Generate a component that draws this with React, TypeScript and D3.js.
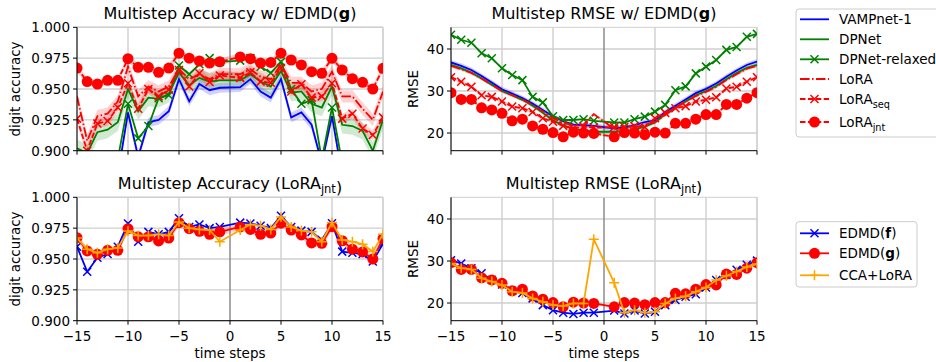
import React from "react";
import * as d3 from "d3";

const timeSteps = [-15,-14,-13,-12,-11,-10,-9,-8,-7,-6,-5,-4,-3,-2,-1,1,2,3,4,5,6,7,8,9,10,11,12,13,14,15];
const xTicks = [-15,-10,-5,0,5,10,15];
const accTicks = [0.9,0.925,0.95,0.975,1.0];
const rmseTicks = [20,30,40];

// Top-left: accuracy w/ EDMD(g)
const accVamp = [0.87,0.86,0.87,0.875,0.88,0.931,0.895,0.923,0.925,0.932,0.958,0.940,0.954,0.949,0.951,0.9515,0.958,0.948,0.943,0.958,0.927,0.931,0.921,0.89,0.928,0.88,0.87,0.87,0.87,0.87];
const accDPNet = [0.902,0.898,0.915,0.917,0.923,0.950,0.932,0.943,0.942,0.946,0.9635,0.953,0.959,0.956,0.957,0.957,0.962,0.956,0.952,0.9646,0.947,0.948,0.938,0.935,0.952,0.921,0.920,0.916,0.900,0.925];
const accDPNetRelaxed = [0.89,0.885,0.888,0.89,0.893,0.938,0.910,0.920,0.9425,0.945,0.969,0.962,0.970,0.975,0.972,0.973,0.975,0.968,0.963,0.972,0.950,0.938,0.941,0.893,0.935,0.89,0.885,0.885,0.885,0.885];
const accLoRA = [0.944,0.908,0.928,0.930,0.940,0.968,0.944,0.952,0.948,0.952,0.966,0.958,0.962,0.958,0.962,0.962,0.966,0.960,0.958,0.970,0.955,0.955,0.948,0.950,0.964,0.944,0.944,0.934,0.925,0.948];
const accLoRASeq = [0.926,0.900,0.922,0.924,0.935,0.9546,0.934,0.950,0.944,0.9495,0.9654,0.952,0.9627,0.9557,0.961,0.959,0.9635,0.956,0.955,0.967,0.948,0.9538,0.943,0.944,0.9546,0.926,0.930,0.918,0.9127,0.927];
const accLoRAJnt = [0.967,0.956,0.954,0.957,0.957,0.9746,0.9676,0.9676,0.9635,0.967,0.979,0.975,0.9727,0.971,0.972,0.976,0.9746,0.971,0.9715,0.979,0.9735,0.9695,0.964,0.9627,0.9749,0.9654,0.9584,0.9554,0.950,0.9668];

// Top-right: RMSE w/ EDMD(g)
const rmseVamp = [36.8,36.0,35.0,33.6,32.0,30.4,29.4,28.3,27.0,25.5,24.0,22.8,22.0,21.9,21.7,21.1,21.3,21.9,22.6,23.0,25.0,26.5,28.0,29.5,30.5,31.8,33.4,34.9,36.2,37.0];
const rmseDPNet = [36.2,35.4,34.4,33.0,31.5,30.0,29.0,27.9,26.5,24.8,23.0,21.8,21.0,20.6,20.3,20.3,20.4,20.8,21.5,22.5,24.5,26.0,27.5,29.0,30.0,31.2,32.8,34.3,35.5,36.2];
const rmseDPNetRelaxed = [43.4,42.2,41.5,39.0,37.8,35.4,33.8,32.6,28.6,27.3,24.0,23.1,23.1,23.3,22.9,22.5,22.5,23.3,23.9,25.1,26.7,30.2,31.1,34.2,35.8,37.4,39.8,40.5,42.9,43.6];
const rmseLoRA = [36.0,35.2,34.3,33.0,31.5,30.0,29.0,28.0,26.7,25.2,23.5,22.5,21.8,22.0,24.5,21.0,21.0,21.3,22.0,22.6,24.3,26.0,27.5,28.8,29.8,31.0,32.6,34.0,35.3,36.0];
const rmseLoRASeq = [33.3,32.2,31.0,29.0,28.6,27.5,26.3,25.9,25.0,23.5,22.7,21.7,21.1,21.5,21.3,21.4,21.5,21.6,21.4,23.5,24.8,25.9,26.4,27.5,27.9,28.5,30.6,31.0,32.2,33.3];
const rmseLoRAJnt = [29.6,28.0,28.0,26.0,25.5,24.7,22.9,23.3,21.7,20.9,20.1,19.1,20.2,20.0,19.9,19.1,20.1,20.0,19.6,20.2,20.0,22.3,22.3,23.3,24.4,24.4,26.8,26.8,28.3,29.6];

// Bottom-left: accuracy (LoRA_jnt)
const accEdmdF = [0.960,0.9397,0.951,0.954,0.960,0.9788,0.964,0.972,0.970,0.972,0.983,0.976,0.978,0.975,0.976,0.9795,0.9788,0.977,0.975,0.985,0.976,0.973,0.972,0.9654,0.979,0.956,0.955,0.954,0.948,0.9625];
const accEdmdG = [0.9673,0.9565,0.9538,0.957,0.957,0.9746,0.968,0.968,0.9646,0.967,0.9794,0.9746,0.9724,0.970,0.972,0.976,0.974,0.970,0.971,0.979,0.9735,0.9695,0.963,0.9627,0.9762,0.9648,0.958,0.9557,0.950,0.9665];
const accCca = [0.967,0.958,0.955,0.958,0.959,0.9727,0.969,0.969,0.970,0.969,0.980,0.975,0.974,0.9735,0.964,0.9735,0.978,0.977,0.974,0.984,0.976,0.973,0.972,0.964,0.9795,0.9654,0.964,0.962,0.956,0.970];

// Bottom-right: RMSE (LoRA_jnt)
const rmseEdmdF = [30.2,29.4,28.3,27.1,25.5,24.4,22.9,22.4,21.1,19.5,18.3,17.7,17.4,17.7,17.7,18.2,17.5,18.2,17.5,17.9,19.5,20.7,21.5,22.1,23.7,25.5,26.7,27.9,29.1,30.1];
const rmseEdmdG = [29.6,28.0,28.0,26.0,25.5,24.7,22.9,23.3,21.7,20.9,20.1,19.1,20.2,20.0,19.9,19.1,20.1,20.0,19.6,20.1,20.1,22.3,22.2,23.3,24.4,24.3,26.9,26.8,28.3,29.6];
const rmseCca = [29.4,28.3,28.0,25.9,25.1,24.3,22.7,22.4,21.1,20.3,19.5,19.3,19.9,19.9,35.2,24.8,17.7,18.3,17.7,17.9,19.9,21.1,21.6,22.7,23.7,25.5,26.5,27.5,28.6,29.3];

// band half-widths (std)
const accSpread = { vamp: 0.004, dpnet: 0.007, lora: 0.005, seq: 0.004, jnt: 0.003 };
const rmseSpread = { vamp: 0.6, dpnet: 0.5, lora: 0.4, seq: 0.4, jnt: 0.3 };

const BLUE = "#0000ff", GREEN = "#008000", RED = "#ff0000", ORANGE = "#ffa500";
const FONT = "DejaVu Sans, sans-serif";
const DASHDOT = "9.6,2.4,1.5,2.4";
const DASHED = "5.5,2.4";

type Series = { values: number[]; color: string; dash?: string; marker?: "x" | "o" | "+"; band?: number };

function Marker({ kind, x, y, color }: { kind: string; x: number; y: number; color: string }) {
  if (kind === "o") return <circle cx={x} cy={y} r={5.5} fill={color} />;
  if (kind === "x") return <path d={`M${x-4},${y-4}L${x+4},${y+4}M${x-4},${y+4}L${x+4},${y-4}`} stroke={color} strokeWidth={1.5} />;
  return <path d={`M${x-5},${y}L${x+5},${y}M${x},${y-5}L${x},${y+5}`} stroke={color} strokeWidth={1.5} />;
}

function Panel({ id, xr, yr, domain, yTicks, fmt, series, showXLabels, yLabel, yLabelX, title }: any) {
  const x = d3.scaleLinear().domain([-15, 15]).range(xr);
  const y = d3.scaleLinear().domain(domain).range(yr);
  const line = d3.line<number>().x((_, i) => x(timeSteps[i])).y((v) => y(v));
  const [x0, x1] = xr; const [yb, yt] = yr;
  return (
    <g>
      <defs>
        <clipPath id={id}><rect x={x0} y={yt} width={x1 - x0} height={yb - yt} /></clipPath>
      </defs>
      {/* grid */}
      {xTicks.map((t) => t !== 0 && (
        <line key={"gx" + t} x1={x(t)} x2={x(t)} y1={yt} y2={yb} stroke="#cfcfcf" strokeWidth={1.4} />
      ))}
      {yTicks.map((t: number) => (
        <line key={"gy" + t} x1={x0} x2={x1} y1={y(t)} y2={y(t)} stroke="#cfcfcf" strokeWidth={1.4} />
      ))}
      <line x1={x(0)} x2={x(0)} y1={yt} y2={yb} stroke="#8c8c8c" strokeWidth={1.5} />
      {/* top/right spines */}
      <line x1={x0} x2={x1} y1={yt} y2={yt} stroke="#cfcfcf" strokeWidth={1} />
      <line x1={x1} x2={x1} y1={yt} y2={yb} stroke="#cfcfcf" strokeWidth={1} />
      <g clipPath={`url(#${id})`}>
        {series.map((s: Series, k: number) => {
          if (!s.band) return null;
          const area = d3.area<number>().x((_, i) => x(timeSteps[i])).y0((v) => y(v - s.band!)).y1((v) => y(v + s.band!));
          return <path key={"b" + k} d={area(s.values) || ""} fill={s.color} fillOpacity={0.18} stroke="none" />;
        })}
        {series.map((s: Series, k: number) => (
          <g key={"s" + k}>
            <path d={line(s.values) || ""} fill="none" stroke={s.color} strokeWidth={1.8} strokeDasharray={s.dash} />
            {s.marker && s.values.map((v, i) => (
              <Marker key={i} kind={s.marker!} x={x(timeSteps[i])} y={y(v)} color={s.color} />
            ))}
          </g>
        ))}
      </g>
      {/* axes */}
      <line x1={x0} x2={x0} y1={yt} y2={yb} stroke="#000" strokeWidth={1} />
      <line x1={x0} x2={x1} y1={yb} y2={yb} stroke="#000" strokeWidth={1} />
      {yTicks.map((t: number) => (
        <g key={"yt" + t}>
          <line x1={x0 - 4} x2={x0} y1={y(t)} y2={y(t)} stroke="#000" />
          <text x={x0 - 7} y={y(t)} dy="0.36em" textAnchor="end" fontSize={13.5} fontFamily={FONT}>{fmt(t)}</text>
        </g>
      ))}
      {xTicks.map((t) => (
        <g key={"xt" + t}>
          <line x1={x(t)} x2={x(t)} y1={yb} y2={yb + 4} stroke="#000" />
          {showXLabels && (
            <text x={x(t)} y={yb + 15} dy="0.36em" textAnchor="middle" fontSize={13.5} fontFamily={FONT}>{t < 0 ? "\u2212" + Math.abs(t) : String(t)}</text>
          )}
        </g>
      ))}
      {showXLabels && (
        <text x={(x0 + x1) / 2} y={yb + 32} dy="0.36em" textAnchor="middle" fontSize={13.5} fontFamily={FONT}>time steps</text>
      )}
      <text transform={`translate(${yLabelX},${(yt + yb) / 2}) rotate(-90)`} textAnchor="middle" dy="0.36em" fontSize={13.5} fontFamily={FONT}>{yLabel}</text>
      <text x={(x0 + x1) / 2} y={yt - 14} dy="0.36em" textAnchor="middle" fontSize={16} fontFamily={FONT}>{title}</text>
    </g>
  );
}

function LegendRow({ y, color, dash, marker, children }: any) {
  return (
    <g>
      <line x1={800} x2={829} y1={y} y2={y} stroke={color} strokeWidth={1.8} strokeDasharray={dash} />
      {marker && <Marker kind={marker} x={814.5} y={y} color={color} />}
      <text x={839} y={y} dy="0.36em" fontSize={13.5} fontFamily={FONT}>{children}</text>
    </g>
  );
}

const Sub = ({ base, sub }: { base: string; sub: string }) => (
  <>
    {base}
    <tspan fontSize="0.72em" dy="4">{sub}</tspan>
    <tspan dy="-4">{""}</tspan>
  </>
);

export default function App() {
  const fmt3 = d3.format(".3f");
  const fmt0 = d3.format("d");
  const topAcc: Series[] = [
    { values: accVamp, color: BLUE, band: accSpread.vamp },
    { values: accDPNet, color: GREEN, band: accSpread.dpnet },
    { values: accDPNetRelaxed, color: GREEN, marker: "x" },
    { values: accLoRA, color: RED, dash: DASHDOT, band: accSpread.lora },
    { values: accLoRASeq, color: RED, dash: DASHED, marker: "x", band: accSpread.seq },
    { values: accLoRAJnt, color: RED, dash: DASHED, marker: "o", band: accSpread.jnt },
  ];
  const topRmse: Series[] = [
    { values: rmseVamp, color: BLUE, band: rmseSpread.vamp },
    { values: rmseDPNet, color: GREEN, band: rmseSpread.dpnet },
    { values: rmseDPNetRelaxed, color: GREEN, marker: "x" },
    { values: rmseLoRA, color: RED, dash: DASHDOT, band: rmseSpread.lora },
    { values: rmseLoRASeq, color: RED, dash: DASHED, marker: "x", band: rmseSpread.seq },
    { values: rmseLoRAJnt, color: RED, dash: DASHED, marker: "o", band: rmseSpread.jnt },
  ];
  const botAcc: Series[] = [
    { values: accEdmdF, color: BLUE, marker: "x" },
    { values: accEdmdG, color: RED, marker: "o", band: accSpread.jnt },
    { values: accCca, color: ORANGE, marker: "+" },
  ];
  const botRmse: Series[] = [
    { values: rmseEdmdF, color: BLUE, marker: "x" },
    { values: rmseEdmdG, color: RED, marker: "o", band: rmseSpread.jnt },
    { values: rmseCca, color: ORANGE, marker: "+" },
  ];
  const titleG = (pre: string) => (<>{pre}EDMD(<tspan fontWeight="bold">g</tspan>)</>);
  return (
    <svg width={936} height={362} style={{ display: "block", position: "absolute", left: 0, top: 0, background: "#fff" }}>
      <rect width={936} height={362} fill="#fff" />
      <Panel id="c1" xr={[77, 383]} yr={[150.7, 27.3]} domain={[0.9, 1.0]} yTicks={accTicks} fmt={fmt3}
        series={topAcc} showXLabels={false} yLabel="digit accuracy" yLabelX={15}
        title={titleG("Multistep Accuracy w/ ")} />
      <Panel id="c2" xr={[451, 757]} yr={[150.7, 27.3]} domain={[15.79, 45.17]} yTicks={rmseTicks} fmt={fmt0}
        series={topRmse} showXLabels={false} yLabel="RMSE" yLabelX={413}
        title={titleG("Multistep RMSE w/ ")} />
      <Panel id="c3" xr={[77, 383]} yr={[320.7, 197.3]} domain={[0.9, 1.0]} yTicks={accTicks} fmt={fmt3}
        series={botAcc} showXLabels={true} yLabel="digit accuracy" yLabelX={15}
        title={<>Multistep Accuracy (<Sub base="LoRA" sub="jnt" />)</>} />
      <Panel id="c4" xr={[451, 757]} yr={[320.7, 197.3]} domain={[15.79, 45.17]} yTicks={rmseTicks} fmt={fmt0}
        series={botRmse} showXLabels={true} yLabel="RMSE" yLabelX={413}
        title={<>Multistep RMSE (<Sub base="LoRA" sub="jnt" />)</>} />

      <rect x={796} y={9} width={150} height={128} rx={3} fill="#fff" fillOpacity={0.8} stroke="#cccccc" />
      <LegendRow y={19.3} color={BLUE}>VAMPnet-1</LegendRow>
      <LegendRow y={39.3} color={GREEN}>DPNet</LegendRow>
      <LegendRow y={59.3} color={GREEN} marker="x">DPNet-relaxed</LegendRow>
      <LegendRow y={79} color={RED} dash={DASHDOT}>LoRA</LegendRow>
      <LegendRow y={99} color={RED} dash={DASHED} marker="x"><Sub base="LoRA" sub="seq" /></LegendRow>
      <LegendRow y={122} color={RED} dash={DASHED} marker="o"><Sub base="LoRA" sub="jnt" /></LegendRow>

      <rect x={796} y={221.7} width={121} height={65.3} rx={3} fill="#fff" fillOpacity={0.8} stroke="#cccccc" />
      <LegendRow y={233.3} color={BLUE} marker="x"><>EDMD(<tspan fontWeight="bold">f</tspan>)</></LegendRow>
      <LegendRow y={253.3} color={RED} marker="o"><>EDMD(<tspan fontWeight="bold">g</tspan>)</></LegendRow>
      <LegendRow y={275.3} color={ORANGE} marker="+">CCA+LoRA</LegendRow>
    </svg>
  );
}
